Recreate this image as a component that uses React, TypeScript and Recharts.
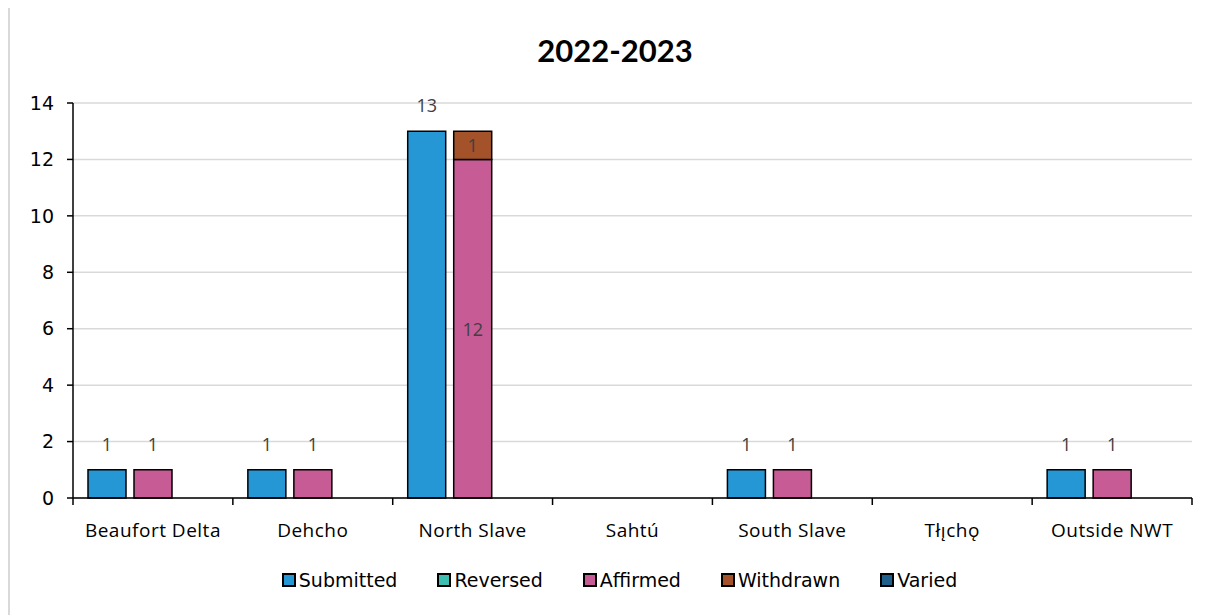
import React from "react";
import { BarChart, Bar, XAxis, YAxis, CartesianGrid, LabelList } from "recharts";

const regions = [
  "Beaufort Delta",
  "Dehcho",
  "North Slave",
  "Sahtú",
  "South Slave",
  "Tłı̨chǫ",
  "Outside NWT",
];
const submitted = [1, 1, 13, 0, 1, 0, 1];
const reversed = [0, 0, 0, 0, 0, 0, 0];
const affirmed = [1, 1, 12, 0, 1, 0, 1];
const withdrawn = [0, 0, 1, 0, 0, 0, 0];
const varied = [0, 0, 0, 0, 0, 0, 0];
const yTicks = [0, 2, 4, 6, 8, 10, 12, 14];

const SERIES = [
  { key: "Submitted", color: "#2597d4", stack: "s" },
  { key: "Reversed", color: "#3cbfb0", stack: "r" },
  { key: "Affirmed", color: "#c65b95", stack: "r" },
  { key: "Withdrawn", color: "#a3522a", stack: "r" },
  { key: "Varied", color: "#1f5f8b", stack: "v" },
];

const data = regions.map((region, i) => ({
  region,
  Submitted: submitted[i],
  Reversed: reversed[i],
  Affirmed: affirmed[i],
  Withdrawn: withdrawn[i],
  Varied: varied[i],
}));

const SANS = "'Open Sans', sans-serif";
// no serif fonts in the sandbox, DejaVu Sans is closest in width to Cambria
const WIDE = "'DejaVu Sans', 'Liberation Sans', sans-serif";

// x ticks sit on the category borders, like in Excel
const CategoryTick = (props: any) => {
  const { x, y, payload, index, visibleTicksCount } = props;
  const off = payload?.offset ?? 0;
  const last = index === (visibleTicksCount ?? regions.length) - 1;
  return (
    <g>
      <line x1={x - off} x2={x - off} y1={y} y2={y + 7} stroke="#000" strokeWidth={1.5} />
      {last && <line x1={x + off} x2={x + off} y1={y} y2={y + 7} stroke="#000" strokeWidth={1.5} />}
      <text
        x={x}
        y={y + 39}
        textAnchor="middle"
        fontFamily={SANS}
        fontSize={19}
        letterSpacing={0.5}
        fill="#000"
      >
        {payload.value}
      </text>
    </g>
  );
};

const topLabel = (props: any) => {
  const { x, y, width, value } = props;
  if (!value) return null;
  return (
    <text x={x + width / 2} y={y - 19} textAnchor="middle" fontFamily={SANS} fontSize={18} fill="#404040">
      {value}
    </text>
  );
};

const centerLabel = (props: any) => {
  const { x, y, width, height, value } = props;
  if (!value) return null;
  return (
    <text x={x + width / 2} y={y + height / 2 + 7} textAnchor="middle" fontFamily={SANS} fontSize={18} fill="#404040">
      {value}
    </text>
  );
};

// affirmed label goes inside when something is stacked on top, else above the bar
const affirmedLabel = (props: any) => {
  const idx = props.index;
  return withdrawn[idx] > 0 ? centerLabel(props) : topLabel(props);
};

export default function App() {
  return (
    <div
      style={{
        position: "relative",
        top: -4,
        width: 1206,
        height: 611,
        borderLeft: "2px solid #d9d9d9",
        borderTop: "2px solid #d9d9d9",
        background: "#fff",
      }}
    >
      <div
        style={{
          position: "absolute",
          left: 0,
          width: 1210,
          top: 25,
          textAlign: "center",
          fontFamily: "Lato, sans-serif",
          fontWeight: 700,
          fontSize: 31,
          color: "#000",
        }}
      >
        2022-2023
      </div>
      <BarChart
        width={1204}
        height={609}
        data={data}
        margin={{ top: 97, right: 22, left: 0, bottom: 77 }}
        barCategoryGap={15}
        barGap={8}
      >
        <CartesianGrid vertical={false} stroke="#d9d9d9" strokeWidth={1.5} />
        <XAxis
          dataKey="region"
          tickLine={false}
          tickSize={0}
          tickMargin={0}
          height={40}
          axisLine={{ stroke: "#000", strokeWidth: 1.5 }}
          tick={<CategoryTick />}
          interval={0}
        />
        <YAxis
          width={63}
          domain={[0, 14]}
          ticks={yTicks}
          interval={0}
          tickSize={6}
          tickMargin={13}
          axisLine={{ stroke: "#000", strokeWidth: 1.5 }}
          tickLine={{ stroke: "#000", strokeWidth: 1.5 }}
          tick={{ fontFamily: WIDE, fontSize: 19, fill: "#000" }}
        />
        {SERIES.map((s) => (
          <Bar
            key={s.key}
            dataKey={s.key}
            stackId={s.stack}
            fill={s.color}
            stroke="#000"
            strokeWidth={1.5}
            isAnimationActive={false}
          >
            <LabelList
              dataKey={s.key}
              content={
                s.key === "Submitted" ? topLabel : s.key === "Affirmed" ? affirmedLabel : centerLabel
              }
            />
          </Bar>
        ))}
      </BarChart>
      <div
        style={{
          position: "absolute",
          left: 0,
          width: 1219,
          top: 563,
          display: "flex",
          justifyContent: "center",
          gap: 40,
          fontFamily: WIDE,
          fontSize: 19,
          color: "#000",
        }}
      >
        {SERIES.map((s) => (
          <div key={s.key} style={{ display: "flex", alignItems: "center", gap: 3 }}>
            <span
              style={{
                display: "inline-block",
                width: 10,
                height: 10,
                background: s.color,
                border: "2px solid #000",
              }}
            />
            <span>{s.key}</span>
          </div>
        ))}
      </div>
    </div>
  );
}
